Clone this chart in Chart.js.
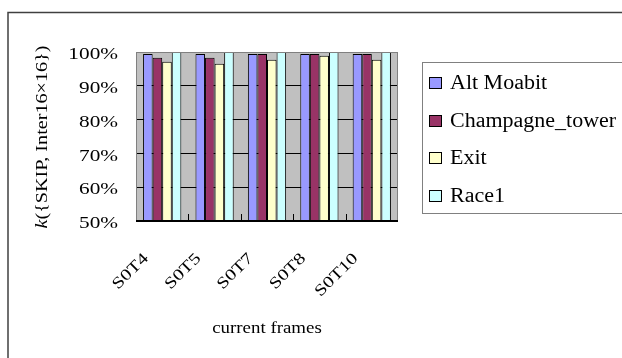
<!DOCTYPE html>
<html>
<head>
<meta charset="utf-8">
<script src="https://cdn.jsdelivr.net/npm/chart.js@4"></script>
<style>
  html, body { margin: 0; padding: 0; background: #ffffff; }
  #wrap { width: 622px; height: 358px; }
</style>
</head>
<body>
<div id="wrap"><canvas id="c" width="622" height="358"></canvas></div>
<script>
// Sequence-level hit ratios per current frame (percent)
const categories = ['S0T4', 'S0T5', 'S0T7', 'S0T8', 'S0T10'];
const altMoabit = [99.4, 99.4, 99.4, 99.4, 99.4];
const champagneTower = [98.3, 98.3, 99.4, 99.4, 99.4];
const exitSeq = [97.1, 96.5, 97.7, 98.9, 97.7];
const race1 = [100, 100, 100, 100, 100];
const seriesNames = ['Alt Moabit', 'Champagne_tower', 'Exit', 'Race1'];
const seriesColors = ['#9999FF', '#993366', '#FFFFCC', '#CCFFFF'];
const yTicks = [50, 60, 70, 80, 90, 100];

const SERIF = '"Liberation Serif", "Times New Roman", serif';
const seriesValues = [altMoabit, champagneTower, exitSeq, race1];
const pctLabel = v => v + '%';

// Text drawn with a wide (horizontally stretched) serif face
function wideText(ctx, text, x, y, o) {
  ctx.save();
  ctx.translate(x, y);
  if (o.rot) ctx.rotate(o.rot);
  ctx.scale(o.sx || 1, 1);
  ctx.font = o.font;
  ctx.textAlign = o.align || 'left';
  ctx.textBaseline = o.baseline || 'middle';
  ctx.fillStyle = '#000000';
  ctx.fillText(text, 0, 0);
  ctx.restore();
}

// Frame, plot background, tick labels, legend and axis titles
const decor = {
  id: 'decor',
  beforeDraw(chart) {
    const { ctx, chartArea: a } = chart;
    ctx.save();
    ctx.fillStyle = '#ffffff';
    ctx.fillRect(0, 0, chart.width, chart.height);
    ctx.fillStyle = '#C0C0C0';
    ctx.fillRect(a.left, a.top, a.right - a.left, a.bottom - a.top);
    ctx.restore();
  },
  afterDraw(chart) {
    const { ctx, chartArea: a } = chart;
    const xs = chart.scales.x;
    const ys = chart.scales.y;
    ctx.save();

    // plot frame
    ctx.strokeStyle = '#808080';
    ctx.lineWidth = 1;
    ctx.strokeRect(a.left + 0.5, a.top + 0.5, a.right - a.left - 1, a.bottom - a.top - 1);
    ctx.strokeStyle = '#000000';
    ctx.beginPath();
    ctx.moveTo(a.left, a.bottom - 0.5);
    ctx.lineTo(a.right, a.bottom - 0.5);
    ctx.stroke();

    // inward tick marks between categories
    const n = chart.data.labels.length;
    const step = (a.right - a.left) / n;
    ctx.beginPath();
    for (let i = 1; i < n; i++) {
      const x = Math.round(xs.getPixelForValue(i) - step / 2) + 0.5;
      ctx.moveTo(x, a.bottom);
      ctx.lineTo(x, a.bottom - 7);
    }
    ctx.stroke();

    // y tick labels
    ys.ticks.forEach(t => {
      wideText(ctx, pctLabel(t.value), a.left - 18, ys.getPixelForValue(t.value) + 3,
        { font: '16px ' + SERIF, sx: 1.33, align: 'right' });
    });

    // x tick labels, rotated 45 degrees
    chart.data.labels.forEach((lab, i) => {
      wideText(ctx, lab, xs.getPixelForValue(i) - 16, a.bottom + 35,
        { font: '16px ' + SERIF, sx: 1.27, align: 'right', rot: -Math.PI / 4 });
    });

    // y axis title: k({SKIP, Inter16×16})
    ctx.save();
    ctx.fillStyle = '#000000';
    ctx.translate(43, 137);
    ctx.rotate(-Math.PI / 2);
    ctx.scale(1.26, 1);
    ctx.textBaseline = 'middle';
    ctx.textAlign = 'left';
    const italicFont = 'italic 16px ' + SERIF;
    const normalFont = '16px ' + SERIF;
    const rest = '({SKIP, Inter16\u00d716})';
    ctx.font = italicFont;
    const wK = ctx.measureText('k').width;
    ctx.font = normalFont;
    const wR = ctx.measureText(rest).width;
    const sx0 = -(wK + wR) / 2;
    ctx.font = italicFont;
    ctx.fillText('k', sx0, 0);
    ctx.font = normalFont;
    ctx.fillText(rest, sx0 + wK, 0);
    ctx.restore();

    // x axis title
    wideText(ctx, 'current frames', (a.left + a.right) / 2, 329,
      { font: '16px ' + SERIF, sx: 1.18, align: 'center' });

    // legend
    ctx.strokeStyle = '#808080';
    ctx.lineWidth = 1;
    ctx.strokeRect(422.5, 62.5, 240, 151);
    const rows = [83, 121, 158, 196];
    chart.data.datasets.forEach((ds, i) => {
      const y = rows[i];
      ctx.fillStyle = ds.backgroundColor;
      ctx.fillRect(429, y - 6, 13, 12);
      ctx.strokeStyle = '#000000';
      ctx.strokeRect(429.5, y - 5.5, 12, 11);
      wideText(ctx, ds.label, 450, y + 1, { font: '20px ' + SERIF, sx: 1.1 });
    });

    // outer frame
    ctx.strokeStyle = '#404040';
    ctx.lineWidth = 1.5;
    ctx.beginPath();
    ctx.moveTo(8, 358);
    ctx.lineTo(8, 12.5);
    ctx.lineTo(622, 12.5);
    ctx.stroke();

    ctx.restore();
  }
};

new Chart(document.getElementById('c'), {
  type: 'bar',
  data: {
    labels: categories,
    datasets: seriesValues.map((vals, i) => ({
      label: seriesNames[i],
      data: vals,
      backgroundColor: seriesColors[i],
      borderColor: '#000000',
      borderWidth: 1,
      borderSkipped: false,
      categoryPercentage: 0.73,
      barPercentage: 1.0
    }))
  },
  options: {
    responsive: false,
    animation: false,
    devicePixelRatio: 1,
    layout: { padding: { left: 0, right: 224, top: 52, bottom: 0 } },
    plugins: {
      legend: { display: false },
      tooltip: { enabled: false }
    },
    scales: {
      x: {
        grid: { display: false, drawTicks: false },
        border: { display: false },
        ticks: { display: false },
        afterFit(scale) { scale.height = 137; }
      },
      y: {
        min: 50,
        max: 100,
        afterBuildTicks(scale) { scale.ticks = yTicks.map(v => ({ value: v })); },
        grid: { color: '#000000', drawTicks: false, lineWidth: 1 },
        border: { display: false },
        ticks: { display: false, callback: pctLabel },
        afterFit(scale) { scale.width = 136; }
      }
    }
  },
  plugins: [decor]
});
</script>
</body>
</html>
